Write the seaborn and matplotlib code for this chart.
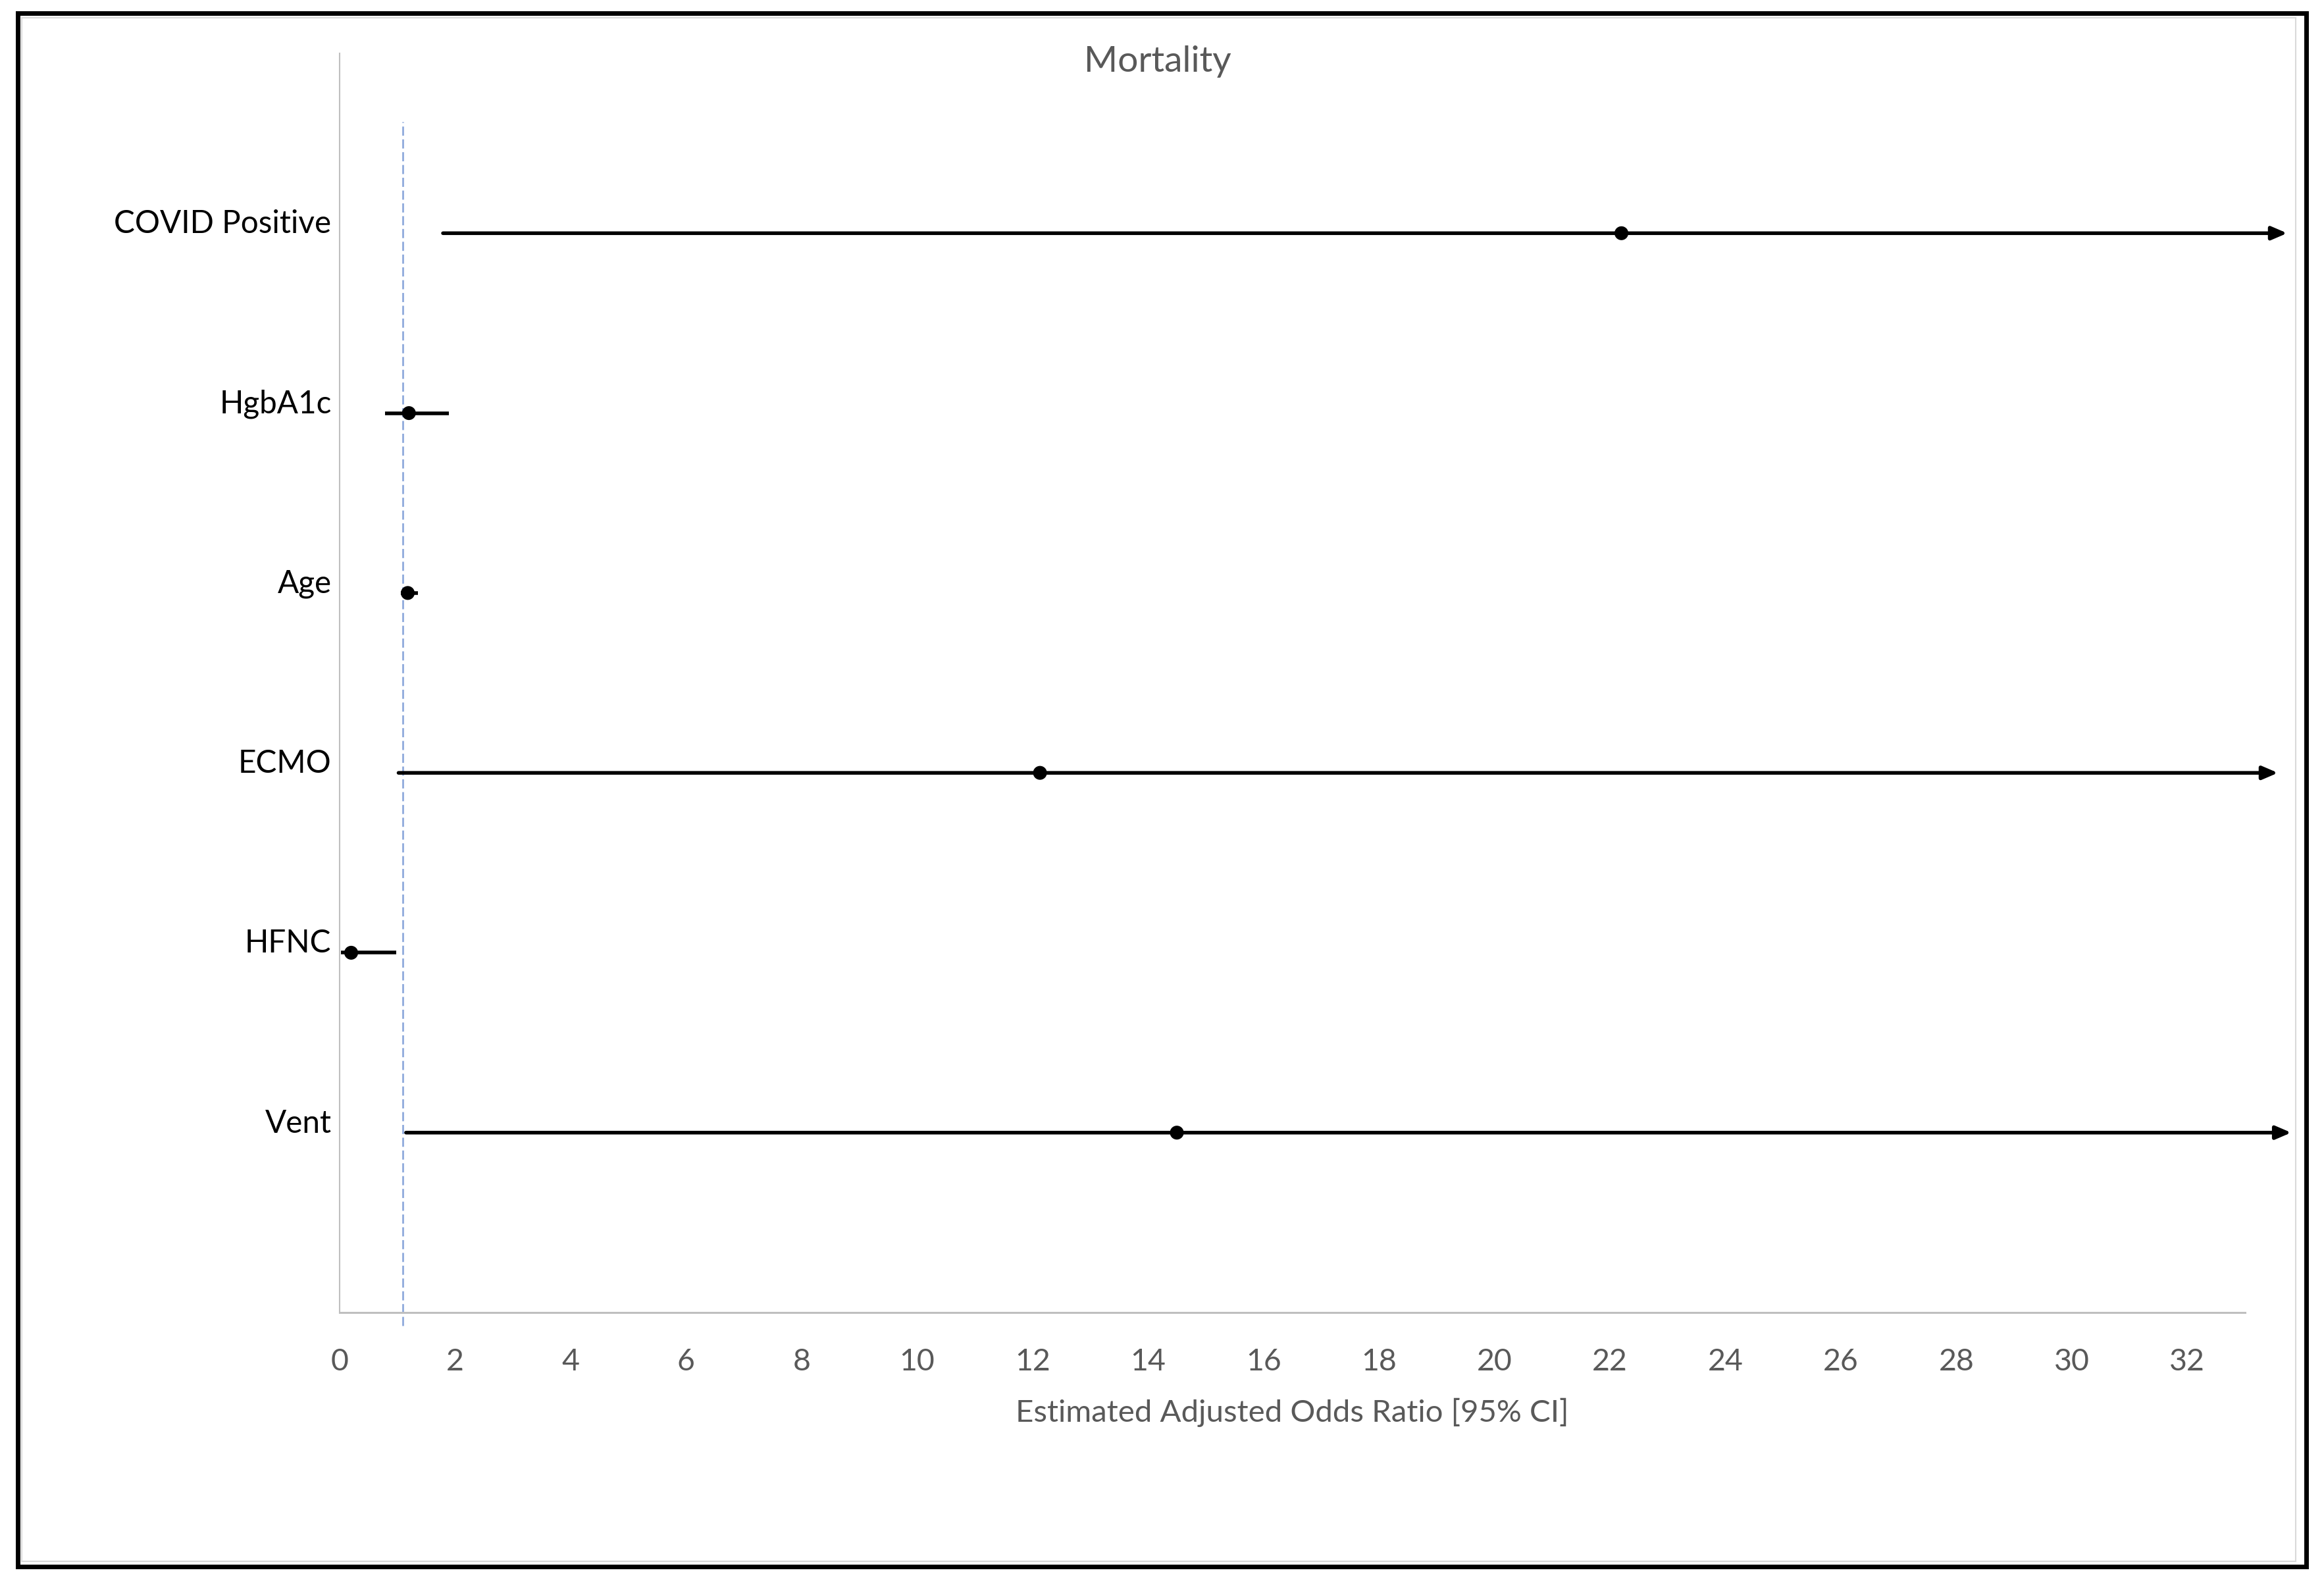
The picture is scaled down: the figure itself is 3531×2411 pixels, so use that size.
import numpy as np
import pandas as pd
import seaborn as sns
import matplotlib.pyplot as plt
from matplotlib import font_manager
from matplotlib.patches import Rectangle

# Dados do forest plot
variaveis = ['COVID Positive', 'HgbA1c', 'Age', 'ECMO', 'HFNC', 'Vent']
odds_ratio = [22.2, 1.20, 1.18, 12.13, 0.20, 14.5]
ic_inferior = [1.79, 0.79, 1.06, 1.02, 0.02, 1.15]
# limite superior visivel; os que passam do eixo terminam em seta
ic_superior = [33.73, 1.89, 1.36, 33.57, 0.98, 33.8]
cortado = [True, False, False, True, False, True]
posicao_y = [6, 5, 4, 3, 2, 1]
linha_ref = 1.09
x_ticks = list(range(0, 33, 2))

df = pd.DataFrame({'var': variaveis, 'or': odds_ratio, 'low': ic_inferior,
                   'high': ic_superior, 'cut': cortado, 'y': posicao_y})

sns.set_style('white')
nomes = {f.name for f in font_manager.fontManager.ttflist}
fonte = 'Liberation Sans Narrow' if 'Liberation Sans Narrow' in nomes else 'Lato'
plt.rcParams['font.family'] = [fonte, 'DejaVu Sans']

cinza_txt = '#595959'
cinza_eixo = '#bfbfbf'

fig = plt.figure(figsize=(35.31, 24.11), dpi=100)
ax = fig.add_axes([516 / 3531, 1 - 1994 / 2411, (3411 - 516) / 3531, (1994 - 81) / 2411])

# linha de referencia tracejada
ax.plot([linha_ref, linha_ref], [-0.075, 6.62], color='#8faadc', lw=2,
        linestyle=(0, (5, 2)), clip_on=False, zorder=1)

# intervalos de confianca
for _, r in df.iterrows():
    if r['cut']:
        ax.annotate('', xy=(r['high'], r['y']), xytext=(r['low'], r['y']),
                    arrowprops=dict(arrowstyle='-|>,head_length=1.4,head_width=0.6',
                                    mutation_scale=10, color='black', lw=4,
                                    shrinkA=0, shrinkB=0),
                    annotation_clip=False, zorder=2)
    else:
        ax.hlines(r['y'], r['low'], r['high'], color='black', lw=4, zorder=2)

sns.scatterplot(data=df, x='or', y='y', color='black', s=230, edgecolor='none',
                zorder=3, ax=ax, legend=False)

ax.set_xlim(0, 33)
ax.set_ylim(0, 7)
ax.set_xticks(x_ticks)
ax.set_xticklabels([str(t) for t in x_ticks], fontsize=37, color=cinza_txt)
ax.set_yticks(range(8))
ax.set_yticklabels([''] + variaveis[::-1] + [''], fontsize=40, color='black')
for lbl in ax.get_yticklabels():
    lbl.set_verticalalignment('baseline')

ax.tick_params(axis='x', direction='inout', length=22, width=1.5, color=cinza_eixo, pad=28)
ax.tick_params(axis='y', direction='out', length=8, width=1.5, color=cinza_eixo, pad=1)

for lado in ['top', 'right']:
    ax.spines[lado].set_visible(False)
ax.spines['left'].set_color(cinza_eixo)
ax.spines['left'].set_linewidth(1.5)
ax.spines['bottom'].set_color(cinza_eixo)
ax.spines['bottom'].set_linewidth(2.2)

ax.set_xlabel('Estimated Adjusted Odds Ratio [95% CI]', fontsize=41, color=cinza_txt)
ax.xaxis.set_label_coords(0.5, -(2146 - 1994) / (1994 - 81))
ax.xaxis.label.set_verticalalignment('center')
ax.set_ylabel('')

titulo = fig.text(1759 / 3531, 1 - 94 / 2411, 'Mortality', fontsize=50, color=cinza_txt,
                  ha='center', va='center')

# ajusta o tamanho das fontes para a largura medida no original (px)
rend = fig.canvas.get_renderer()

def ajusta(textos, alvo):
    larg = textos[0].get_window_extent(rend).width
    novo = textos[0].get_fontsize() * alvo / larg
    for t in textos:
        t.set_fontsize(novo)

ajusta([l for l in ax.get_yticklabels() if l.get_text() == 'COVID Positive'] +
       [l for l in ax.get_yticklabels() if l.get_text() != 'COVID Positive'], 330)
ajusta([l for l in ax.get_xticklabels() if l.get_text() == '32'] +
       [l for l in ax.get_xticklabels() if l.get_text() != '32'], 54)
ajusta([ax.xaxis.label], 842)
ajusta([titulo], 224)

# bordas da area do grafico
fig.add_artist(Rectangle((33 / 3531, 1 - 2372 / 2411), (3488 - 33) / 3531, (2372 - 27) / 2411,
                         transform=fig.transFigure, fill=False, edgecolor='#d9d9d9', lw=1.5))
fig.add_artist(Rectangle((27 / 3531, 1 - 2380 / 2411), (3504 - 27) / 3531, (2380 - 20) / 2411,
                         transform=fig.transFigure, fill=False, edgecolor='black', lw=5))

fig.savefig('out.png', dpi=100)
